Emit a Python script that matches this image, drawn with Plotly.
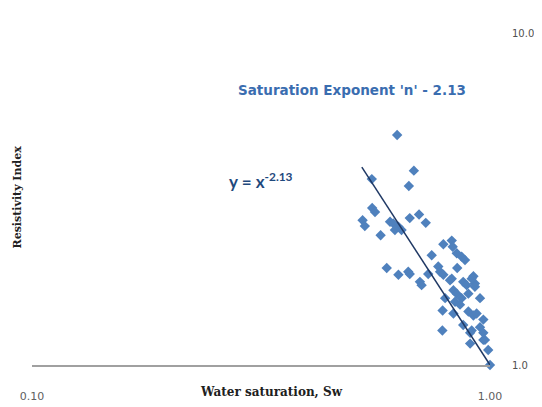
import plotly.graph_objects as go

# Water saturation (Sw) and resistivity index (RI) values
sw = [0.627, 0.682, 0.665, 0.552, 0.553, 0.561, 0.527, 0.533, 0.577, 0.605,
      0.615, 0.631, 0.641, 0.620, 0.668, 0.700, 0.724, 0.791, 0.825, 0.829,
      0.846, 0.867, 0.882, 0.746, 0.595, 0.631, 0.663, 0.668, 0.703, 0.709,
      0.733, 0.771, 0.778, 0.791, 0.848, 0.818, 0.832, 0.846, 0.874, 0.889,
      0.920, 0.927, 0.798, 0.839, 0.867, 0.897, 0.951, 0.788, 0.832, 0.897,
      0.920, 0.967, 0.951, 0.787, 0.874, 0.912, 0.905, 0.967, 0.905, 0.991,
      1.000, 0.912, 0.860, 0.935, 0.975, 0.967, 0.825, 0.927]
ri = [4.93, 3.85, 3.46, 3.63, 2.97, 2.89, 2.73, 2.62, 2.46, 2.70,
      2.67, 2.61, 2.55, 2.55, 2.77, 2.84, 2.68, 2.31, 2.37, 2.27,
      2.17, 2.12, 2.07, 2.14, 1.96, 1.87, 1.91, 1.88, 1.78, 1.74,
      1.88, 1.98, 1.91, 1.87, 1.96, 1.80, 1.68, 1.64, 1.78, 1.74,
      1.85, 1.76, 1.59, 1.55, 1.59, 1.64, 1.59, 1.46, 1.43, 1.45,
      1.41, 1.37, 1.30, 1.27, 1.32, 1.27, 1.25, 1.19, 1.16, 1.11,
      1.00, 1.82, 1.52, 1.43, 1.19, 1.25, 1.82, 1.72]

n_exp = 2.13
trend_sw = [0.525, 1.0]
trend_ri = [s ** (-n_exp) for s in trend_sw]

x_ticks = [0.1, 1.0]
x_ticktext = ["0.10", "1.00"]
y_ticks = [1.0, 10.0]
y_ticktext = ["1.0", "10.0"]

title_text = "Saturation Exponent 'n' - 2.13"
eq_text = "y = x<sup>-2.13</sup>"
x_title = "Water saturation, Sw"
y_title = "Resistivity Index"

fig = go.Figure()
fig.add_trace(go.Scatter(
    x=sw, y=ri, mode="markers",
    marker=dict(symbol="diamond", size=8, color="#4F81BD"),
    cliponaxis=False, showlegend=False, hoverinfo="skip"))
fig.add_trace(go.Scatter(
    x=trend_sw, y=trend_ri, mode="lines",
    line=dict(color="#1F3864", width=1.5),
    cliponaxis=False, showlegend=False, hoverinfo="skip"))

fig.update_layout(
    width=534, height=399,
    margin=dict(l=24, r=52, t=25, b=42),
    paper_bgcolor="white", plot_bgcolor="white",
    font=dict(family="DejaVu Sans, sans-serif", size=10, color="#404040"),
    xaxis=dict(type="log", range=[-1, 0], tickvals=x_ticks, ticktext=x_ticktext,
               showgrid=False, zeroline=False, showline=True, linecolor="#A0A0A0",
               linewidth=2, ticks="", ticklabelstandoff=20, automargin=False,
               tickfont=dict(size=11, color="#606060")),
    yaxis=dict(type="log", range=[0, 1], tickvals=y_ticks, ticktext=y_ticktext,
               side="right", showgrid=False, zeroline=False, showline=False,
               ticks="", ticklabelstandoff=21, automargin=False,
               tickfont=dict(size=10, color="#505050")),
    annotations=[
        dict(text="<b>" + title_text + "</b>", xref="paper", yref="paper",
             x=0.699, y=0.828, showarrow=False, xanchor="center", yanchor="middle",
             font=dict(size=13.5, color="#3A6DB0", family="DejaVu Sans, sans-serif")),
        dict(text="<b>" + eq_text + "</b>", xref="paper", yref="paper",
             x=0.425, y=0.555, showarrow=False, xanchor="left", yanchor="middle",
             font=dict(size=17, color="#1F497D", family="Lato, sans-serif")),
        dict(text="<b>" + x_title + "</b>", xref="paper", yref="paper",
             x=0.524, y=-0.081, showarrow=False, xanchor="center", yanchor="middle",
             font=dict(size=12, color="#202020", family="DejaVu Serif, serif")),
        dict(text="<b>" + y_title + "</b>", xref="paper", yref="paper", textangle=-90,
             x=-0.031, y=0.507, showarrow=False, xanchor="center", yanchor="middle",
             font=dict(size=11, color="#202020", family="DejaVu Serif, serif")),
    ],
)

fig.write_html("out.html")
